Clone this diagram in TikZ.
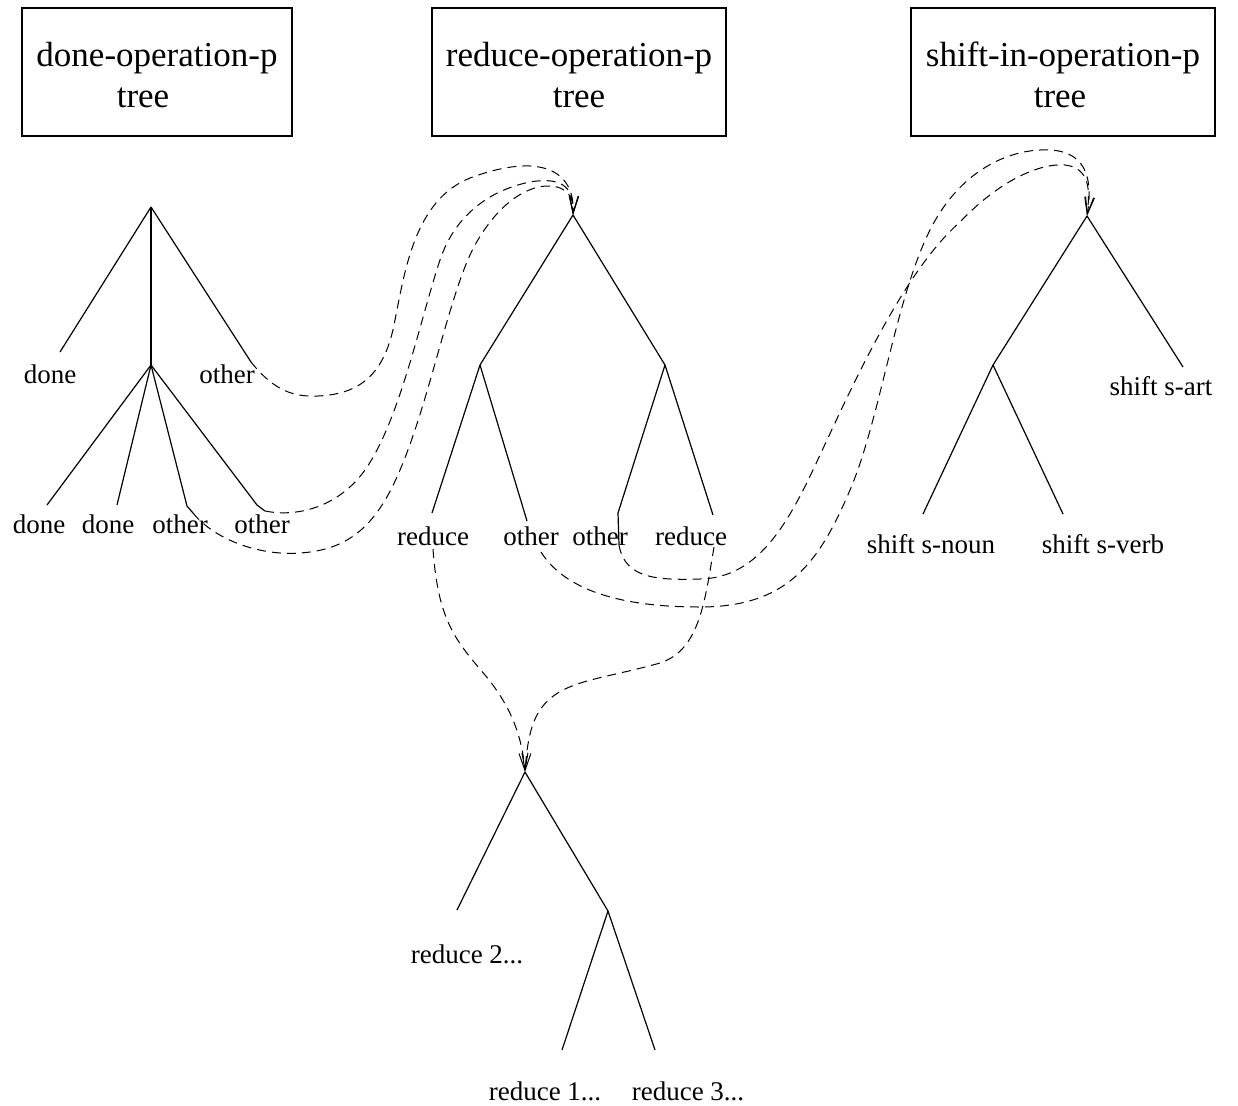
\documentclass[tikz,border=0pt]{standalone}
\usepackage{fontspec}
\setmainfont{Liberation Serif}
\usetikzlibrary{arrows.meta}

\newcommand{\boxtop}{\rule{0pt}{31pt}}

\tikzset{
  opbox/.style={draw, line width=1.2pt, minimum width=#1, minimum height=128pt,
    align=center, inner sep=0pt, font=\fontsize{35}{41}\selectfont},
  branch/.style={line width=1.2pt},
  leaf/.style={anchor=base, inner sep=0pt, font=\fontsize{27}{32}\selectfont},
  link/.style={line width=1pt, dash pattern=on 9pt off 6pt,
    -{Straight Barb[length=17pt,width=9pt]}}
}

\begin{document}
\begin{tikzpicture}[x=1pt,y=-1pt]
  \useasboundingbox (0,0) rectangle (1238,1105);

  % the three operation trees
  \node[opbox=270pt] (hdone) at (157,72) {\boxtop done-operation-p\\tree\hspace*{28pt}};
  \node[opbox=294pt] (hreduce) at (579,72) {\boxtop reduce-operation-p\\tree};
  \node[opbox=304pt] (hshift) at (1063,72) {\boxtop shift-in-operation-p\\tree\hspace*{6pt}};

  % tree points
  \foreach \n/\x/\y in {
    d0/151/207, d1/151/365, da/60/352, db/251/362, dc/47/505, dd/117/505,
    de/187/506, dek/193/513, df/257/505, dfk/265/511,
    r0/573/215, r1/480/365, r2/665/365, ra/432/513, rb/527/521,
    rc/618/513, rck/619/545, rd/713/515,
    s0/1087/216, s1/993/365, sa/1183/367, sb/923/514, sc/1063/514,
    q0/525/772, q1/608/911, qa/457/910, qb/562/1050, qc/655/1050,
    ras/433/549, rbs/541/552, rds/714/547}
    \coordinate (\n) at (\x,\y);

  % branches
  \foreach \a/\b in {
    d0/d1, d0/da, d0/db, d1/dc, d1/dd, d1/de, de/dek, d1/df, df/dfk,
    r0/r1, r0/r2, r1/ra, r1/rb, r2/rc, rc/rck, r2/rd,
    s0/s1, s0/sa, s1/sb, s1/sc,
    q0/qa, q0/q1, q1/qb, q1/qc}
    \draw[branch] (\a) -- (\b);

  % leaf labels
  \foreach \n/\x/\y/\t in {
    tdone/50/383/done, tother/227/383/other,
    tdonea/39/533/done, tdoneb/108/533/done,
    tothera/180/533/other, totherb/262/533/other,
    rred/433/545/reduce, roth/531/545/other,
    rotha/600/545/other, rreda/691/545/reduce,
    snoun/931/553/shift s-noun, sverb/1103/553/shift s-verb,
    sart/1161/395/shift s-art}
    \node[leaf] (\n) at (\x,\y) {\t};
  \node[leaf] (qtwo) at (467,963) {reduce 2...};
  \node[leaf] (qone) at (545,1100) {reduce 1...};
  \node[leaf] (qthree) at (688,1100) {reduce 3...};

  % links into reduce-operation-p
  \draw[link] (db) .. controls (275,392) and (295,397) .. (318,396)
    .. controls (360,394) and (385,375) .. (395,320)
    .. controls (405,270) and (415,200) .. (470,178)
    .. controls (540,152) and (575,170) .. (r0);
  \draw[link] (dfk) .. controls (300,518) and (340,505) .. (365,470)
    .. controls (400,420) and (420,320) .. (440,260)
    .. controls (455,215) and (490,190) .. (530,182)
    .. controls (565,176) and (574,190) .. (r0);
  \draw[link] (dek) .. controls (215,540) and (260,556) .. (300,553)
    .. controls (345,550) and (375,530) .. (400,470)
    .. controls (430,400) and (450,290) .. (475,245)
    .. controls (500,200) and (530,185) .. (550,186)
    .. controls (568,187) and (574,198) .. (r0);

  % links into the reduce subtree
  \draw[link] (ras) .. controls (438,620) and (455,640) .. (485,675)
    .. controls (510,705) and (522,735) .. (q0);
  \draw[link] (rds) .. controls (705,600) and (700,650) .. (660,663)
    .. controls (600,680) and (560,680) .. (540,710)
    .. controls (530,725) and (527,745) .. (q0);

  % links into shift-in-operation-p
  \draw[link] (rbs) .. controls (565,590) and (620,607) .. (700,607)
    .. controls (790,607) and (820,560) .. (850,490)
    .. controls (880,420) and (895,300) .. (930,230)
    .. controls (960,170) and (1010,148) .. (1050,150)
    .. controls (1090,152) and (1092,185) .. (s0);
  \draw[link] (rck) .. controls (625,580) and (660,580) .. (700,579)
    .. controls (760,578) and (790,520) .. (820,455)
    .. controls (855,380) and (905,270) .. (960,222)
    .. controls (1000,180) and (1040,163) .. (1065,165)
    .. controls (1090,168) and (1090,190) .. (s0);
\end{tikzpicture}
\end{document}
